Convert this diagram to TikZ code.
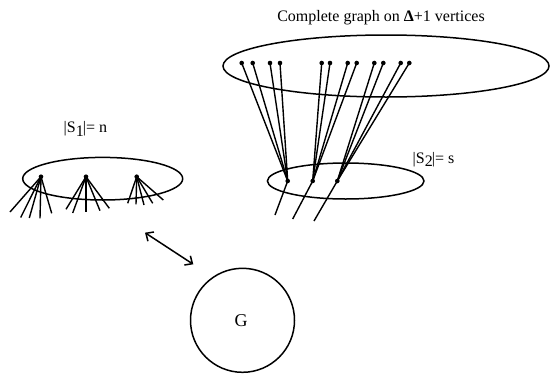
\documentclass[tikz,border=0pt]{standalone}
\usepackage{fontspec}
\setmainfont{Liberation Serif}
\usetikzlibrary{arrows.meta}
\begin{document}
\begin{tikzpicture}[x=1pt,y=-1pt,line width=1.4pt,
  vdot/.style={circle,fill=black,inner sep=0pt,minimum size=4.6pt},
  ring/.style={draw,line width=1.5pt},
  edge/.style={line width=1.4pt},
  lbl/.style={inner sep=0pt,anchor=base west}]
\useasboundingbox (0,0) rectangle (551,375);
% top complete graph ellipse
\draw[ring] (386,66) ellipse [x radius=163, y radius=31];
\node[inner sep=0pt,anchor=base] (title) at (381,21) {\fontsize{16}{18}\selectfont Complete graph on \textbf{Δ}+1 vertices};
% top vertices
\foreach \i/\x in {1/241.7,2/252.7,3/270,4/280,5/321.7,6/330,7/347.7,8/356.7,9/374.3,10/383.3,11/400.7,12/409.3}
  \node[vdot] (t\i) at (\x,63) {};
% S2 ellipse and vertices
\draw[ring] (345.7,181) ellipse [x radius=78.3, y radius=18];
\node[vdot] (u1) at (287.7,181) {};
\node[vdot] (u2) at (312.7,181) {};
\node[vdot] (u3) at (337.3,181) {};
\foreach \i in {1,2,3,4} \draw[edge] (t\i.center) -- (u1.center);
\foreach \i in {5,6,7,8} \draw[edge] (t\i.center) -- (u2.center);
\foreach \i in {9,10,11,12} \draw[edge] (t\i.center) -- (u3.center);
\coordinate (b1) at (275,215);
\coordinate (b2) at (292.7,219);
\coordinate (b3) at (314,221);
\draw[edge] (u1.center) -- (b1);
\draw[edge] (u2.center) -- (b2);
\draw[edge] (u3.center) -- (b3);
\node[lbl] (s2) at (412,163) {\fontsize{16}{18}\selectfont |S\raisebox{-3.5pt}{2}\kern-1pt|= s};
% S1 ellipse and vertices
\draw[ring] (102.7,178.7) ellipse [x radius=80, y radius=21.3];
\node[lbl] (s1) at (63,132.7) {\fontsize{16}{18}\selectfont |S\raisebox{-3.5pt}{1}\kern-1pt|= n};
\node[vdot] (v1) at (41,176.7) {};
\node[vdot] (v2) at (86,176.7) {};
\node[vdot] (v3) at (136.7,176.7) {};
\foreach \j/\x/\y in {1/10/212,2/20.7/217.5,3/29.3/218,4/40/218.3,5/51.7/213.3}
  {\coordinate (pa\j) at (\x,\y); \draw[edge] (v1.center) -- (pa\j);}
\foreach \j/\x/\y in {1/66/209.3,2/72.7/213,3/86/211.7,4/100/210.7,5/109.3/208.3}
  {\coordinate (pb\j) at (\x,\y); \draw[edge] (v2.center) -- (pb\j);}
\foreach \j/\x/\y in {1/127.7/203.3,2/136/204.3,3/144/205,4/152.7/203.3,5/163.3/200}
  {\coordinate (pc\j) at (\x,\y); \draw[edge] (v3.center) -- (pc\j);}
% arrow
\coordinate (a1) at (145,232.7);
\coordinate (a2) at (193.3,264.3);
\draw[line width=1.5pt,{Straight Barb[length=6pt,width=11pt]}-{Straight Barb[length=6pt,width=11pt]}] (a1) -- (a2);
% G
\node[circle,draw,line width=1.5pt,minimum size=104pt,inner sep=0pt] (G) at (242.5,320.3) {};
\node[inner sep=0pt] (Gl) at (241,321) {\fontsize{18}{20}\selectfont G};
\end{tikzpicture}
\end{document}
